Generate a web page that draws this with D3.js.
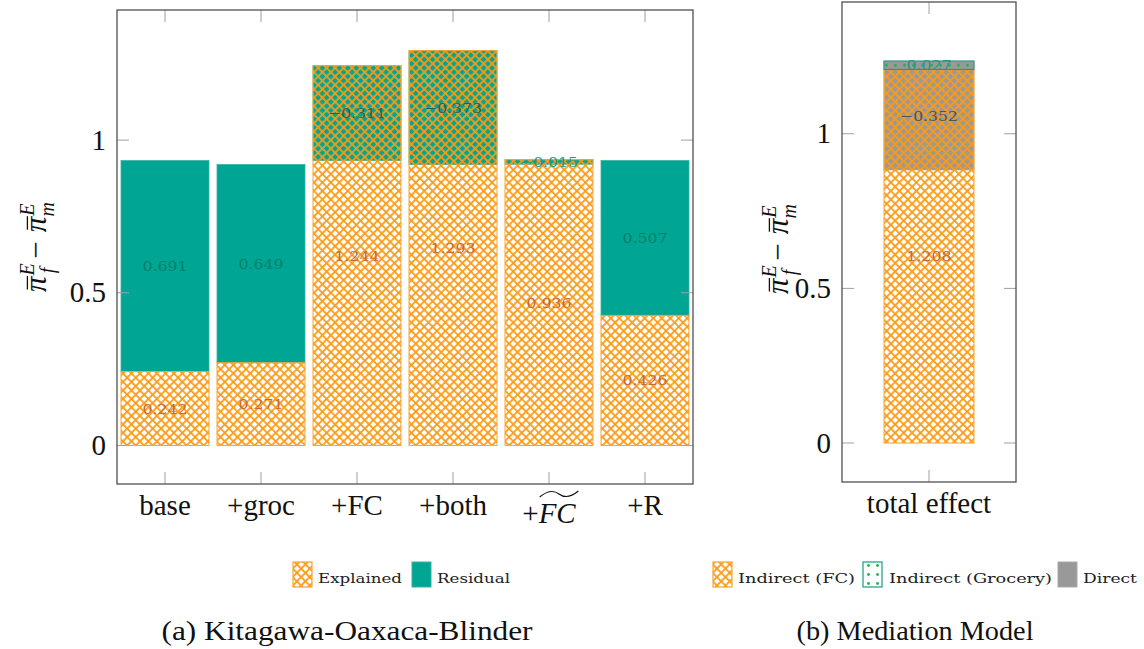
<!DOCTYPE html>
<html><head><meta charset="utf-8">
<script src="https://cdn.jsdelivr.net/npm/d3@7/dist/d3.min.js"></script>
<style>body{margin:0;background:#fff}svg{display:block}</style>
</head><body>
<svg id="chart" width="1144" height="649"></svg>
<script>
// ---------- data ----------
const categories = ["base", "+groc", "+FC", "+both", "+FCtilde", "+R"];
const tickLabels = ["base", "+groc", "+FC", "+both", "+FC", "+R"];
const tickTilde = [false, false, false, false, true, false];
const explained = [0.242, 0.271, 1.244, 1.293, 0.936, 0.426];
const residual = [0.691, 0.649, -0.311, -0.373, -0.015, 0.507];

const medCategories = ["total effect"];
const indirectFC = [1.208];
const indirectGrocery = [0.027];
const directEffect = [-0.352];

const yTicks = [0, 0.5, 1];
const yTickLabels = ["0", "0.5", "1"];
const legendA = ["Explained", "Residual"];
const legendB = ["Indirect (FC)", "Indirect (Grocery)", "Direct"];
const captions = ["(a) Kitagawa-Oaxaca-Blinder", "(b) Mediation Model"];

// ---------- style ----------
const ORANGE = "#fb9a14", ORANGE_EDGE = "#f7a535", TEAL = "#00a693", TEAL_EDGE = "#35b3a2",
      GRAY = "#999999", GREEN_DOT = "#1fb34a";
const LBL_EXPL = "#c9673a", LBL_RES = "#00806c", LBL_DIR = "#505050", LBL_GROC = "#1c9a86";
const SERIF = "'Liberation Serif', 'Times New Roman', serif";
const SMALL = "'DejaVu Serif', serif";

const svg = d3.select("#chart");
const defs = svg.append("defs");

// crosshatch pattern
const cell = 6.0;
const hatch = defs.append("pattern").attr("id", "hatch").attr("patternUnits", "userSpaceOnUse")
  .attr("width", cell).attr("height", cell).attr("patternTransform", "rotate(45)");
hatch.append("path").attr("d", `M0,${cell / 2}H${cell}M${cell / 2},0V${cell}`)
  .attr("stroke", ORANGE).attr("stroke-width", 1.75).attr("fill", "none");

function dotPattern(id, yOff) {
  const p = defs.append("pattern").attr("id", id).attr("patternUnits", "userSpaceOnUse")
    .attr("width", 9).attr("height", 9).attr("x", 0).attr("y", yOff);
  p.append("circle").attr("cx", 4.5).attr("cy", 4.5).attr("r", 1.4).attr("fill", GREEN_DOT);
}

const fmt = d3.format(".3f");

// ---------- panel (a) ----------
const A = {left: 117, right: 693, top: 10, bottom: 484};
const xA = d3.scalePoint().domain(categories).range([165, 645]);
const yA = d3.scaleLinear().domain([-0.126, 1.426]).range([A.bottom, A.top]);
const bwA = 88;

const gA = svg.append("g");
// residual (drawn below)
gA.selectAll("rect.res").data(categories).join("rect").attr("class", "res")
  .attr("x", d => xA(d) - bwA / 2).attr("width", bwA)
  .attr("y", (d, i) => yA(Math.max(explained[i], explained[i] + residual[i])))
  .attr("height", (d, i) => Math.abs(yA(explained[i]) - yA(explained[i] + residual[i])))
  .attr("fill", TEAL).attr("stroke", TEAL_EDGE).attr("stroke-width", 0.8);
// explained
gA.selectAll("rect.exp").data(categories).join("rect").attr("class", "exp")
  .attr("x", d => xA(d) - bwA / 2).attr("width", bwA)
  .attr("y", (d, i) => yA(explained[i]))
  .attr("height", (d, i) => yA(0) - yA(explained[i]))
  .attr("fill", "url(#hatch)").attr("stroke", ORANGE_EDGE).attr("stroke-width", 1);

function valueLabel(g, x, y, v, color) {
  const s = fmt(v);
  g.append("text").attr("x", x).attr("y", y + 5).attr("text-anchor", "middle")
    .attr("font-family", SMALL).attr("font-size", 13.5).attr("fill", color)
    .attr("textLength", v < 0 ? 58 : 45).attr("lengthAdjust", "spacingAndGlyphs").text(s);
}
categories.forEach((c, i) => {
  valueLabel(gA, xA(c), yA(explained[i] / 2), explained[i], LBL_EXPL);
  const resColor = residual[i] < 0 && Math.abs(residual[i]) > 0.1 ? "#2c5d55" : (Math.abs(residual[i]) < 0.05 ? LBL_GROC : LBL_RES);
  valueLabel(gA, xA(c), yA(explained[i] + residual[i] / 2), residual[i], resColor);
});

function frameAndTicks(g, F, x, y, cats) {
  const tk = 12;
  yTicks.forEach(t => {
    g.append("line").attr("x1", F.left).attr("x2", F.left + tk).attr("y1", y(t)).attr("y2", y(t))
      .attr("stroke", "#a0a0a0").attr("stroke-width", 1);
    g.append("line").attr("x1", F.right).attr("x2", F.right - tk).attr("y1", y(t)).attr("y2", y(t))
      .attr("stroke", "#a0a0a0").attr("stroke-width", 1);
  });
  cats.forEach(c => {
    g.append("line").attr("x1", x(c)).attr("x2", x(c)).attr("y1", F.bottom).attr("y2", F.bottom - tk)
      .attr("stroke", "#a0a0a0").attr("stroke-width", 1);
    g.append("line").attr("x1", x(c)).attr("x2", x(c)).attr("y1", F.top).attr("y2", F.top + tk)
      .attr("stroke", "#a0a0a0").attr("stroke-width", 1);
  });
  g.append("rect").attr("x", F.left).attr("y", F.top).attr("width", F.right - F.left)
    .attr("height", F.bottom - F.top).attr("fill", "none").attr("stroke", "#505050").attr("stroke-width", 1.3);
  yTicks.forEach((t, i) => {
    g.append("text").attr("x", F.left - 11).attr("y", y(t) + 9.5).attr("text-anchor", "end")
      .attr("font-family", SERIF).attr("font-size", 29).attr("fill", "#111").text(yTickLabels[i]);
  });
}
frameAndTicks(gA, A, xA, yA, categories);

// x tick labels
categories.forEach((c, i) => {
  const t = gA.append("text").attr("x", xA(c)).attr("y", tickTilde[i] ? 523 : 515)
    .attr("text-anchor", "middle").attr("font-family", SERIF).attr("font-size", 29).attr("fill", "#111");
  if (tickTilde[i]) {
    t.append("tspan").text("+");
    t.append("tspan").attr("font-style", "italic").text("FC");
    const bb = t.node().getBBox();
    const plusW = t.node().getSubStringLength(0, 1);
    const x0 = bb.x + plusW + 1, x1 = bb.x + bb.width + 2, yy = 523 - 29, w = x1 - x0;
    gA.append("path")
      .attr("d", `M${x0},${yy + 3} C${x0 + w * 0.25},${yy - 5} ${x0 + w * 0.4},${yy - 3} ${x0 + w / 2},${yy}
                  S${x0 + w * 0.75},${yy + 5} ${x1},${yy - 3}`)
      .attr("fill", "none").attr("stroke", "#111").attr("stroke-width", 1.1);
  } else {
    t.text(tickLabels[i]);
  }
});

// y-axis label:  pi-bar_f^E - pi-bar_m^E
function yLabel(cx, cy) {
  const fs = 31;
  const g = svg.append("g").attr("transform", `translate(${cx},${cy}) rotate(-90)`);
  const t = g.append("text").attr("x", 0).attr("y", 0)
    .attr("text-anchor", "middle").attr("font-family", SERIF).attr("font-size", fs).attr("fill", "#111");
  const part = (sub, first) => {
    const p = t.append("tspan").attr("font-style", "italic").text("π");
    if (!first) p.attr("dx", 9);
    t.append("tspan").attr("font-size", 20).attr("font-style", "italic").attr("dx", 1).attr("dy", -12).text("E");
    t.append("tspan").attr("font-size", 20).attr("font-style", "italic").attr("dx", sub === "f" ? -10 : -13).attr("dy", 20).text(sub);
  };
  part("f", true);
  t.append("tspan").attr("dy", -8).attr("dx", 9).text("\u2212");
  part("m", false);
  // overbars on the two pi glyphs
  const node = t.node();
  const txt = node.textContent;
  for (let k = 0; k < txt.length; k++) {
    if (txt[k] === "π") {
      const e = node.getExtentOfChar(k);
      g.append("line").attr("x1", e.x + 2.5).attr("x2", e.x + e.width + 0.5)
        .attr("y1", -fs * 0.6).attr("y2", -fs * 0.6).attr("stroke", "#111").attr("stroke-width", 1.3);
    }
  }
}
yLabel(46, 247);

// ---------- panel (b) ----------
const B = {left: 842, right: 1016, top: 2, bottom: 482};
const xB = d3.scalePoint().domain(medCategories).range([B.left, B.right]).padding(0.5);
const yB = d3.scaleLinear().domain([-0.126, 1.426]).range([B.bottom, B.top]);
const bwB = 90;
const gB = svg.append("g");

medCategories.forEach((c, i) => {
  const fcTop = indirectFC[i], grTop = fcTop + indirectGrocery[i], dirEnd = grTop + directEffect[i];
  // direct (behind)
  gB.append("rect").attr("x", xB(c) - bwB / 2).attr("width", bwB)
    .attr("y", yB(Math.max(grTop, dirEnd))).attr("height", Math.abs(yB(grTop) - yB(dirEnd)))
    .attr("fill", GRAY).attr("stroke", "#aaaaaa").attr("stroke-width", 0.8);
  // indirect FC
  gB.append("rect").attr("x", xB(c) - bwB / 2).attr("width", bwB)
    .attr("y", yB(fcTop)).attr("height", yB(0) - yB(fcTop))
    .attr("fill", "url(#hatch)").attr("stroke", ORANGE_EDGE).attr("stroke-width", 1);
  // indirect grocery
  dotPattern("dotsB" + i, yB((fcTop + grTop) / 2) - 4.5);
  gB.append("rect").attr("x", xB(c) - bwB / 2).attr("width", bwB)
    .attr("y", yB(grTop)).attr("height", yB(fcTop) - yB(grTop))
    .attr("fill", `url(#dotsB${i})`).attr("stroke", "#1a9a85").attr("stroke-width", 1.1);
  valueLabel(gB, xB(c), yB(fcTop / 2), indirectFC[i], LBL_EXPL);
  valueLabel(gB, xB(c), yB((grTop + dirEnd) / 2), directEffect[i], LBL_DIR);
  valueLabel(gB, xB(c), yB((fcTop + grTop) / 2), indirectGrocery[i], LBL_GROC);
});
frameAndTicks(gB, B, xB, yB, medCategories);
medCategories.forEach(c => {
  gB.append("text").attr("x", xB(c)).attr("y", 513).attr("text-anchor", "middle")
    .attr("font-family", SERIF).attr("font-size", 29).attr("fill", "#111").text(c);
});
yLabel(788, 249);

// ---------- legends ----------
function legendBox(x, kind) {
  const y = 562, w = 19, h = 25;
  if (kind === "hatch") {
    svg.append("rect").attr("x", x).attr("y", y).attr("width", w).attr("height", h)
      .attr("fill", "url(#hatch)").attr("stroke", ORANGE_EDGE).attr("stroke-width", 1.2);
  } else if (kind === "teal") {
    svg.append("rect").attr("x", x).attr("y", y).attr("width", w).attr("height", h)
      .attr("fill", TEAL).attr("stroke", TEAL_EDGE).attr("stroke-width", 1);
  } else if (kind === "dots") {
    dotPattern("dotsLeg", y - 1);
    svg.append("rect").attr("x", x).attr("y", y).attr("width", w).attr("height", h)
      .attr("fill", "url(#dotsLeg)").attr("stroke", "#1a9a85").attr("stroke-width", 1.2);
  } else {
    svg.append("rect").attr("x", x).attr("y", y).attr("width", w).attr("height", h)
      .attr("fill", GRAY).attr("stroke", "#aaaaaa").attr("stroke-width", 1);
  }
}
function legendText(x, len, s) {
  svg.append("text").attr("x", x).attr("y", 583).attr("font-family", SMALL).attr("font-size", 13)
    .attr("fill", "#222").attr("textLength", len).attr("lengthAdjust", "spacingAndGlyphs").text(s);
}
legendBox(293, "hatch"); legendText(318, 84, legendA[0]);
legendBox(412, "teal"); legendText(437, 73, legendA[1]);
legendBox(713, "hatch"); legendText(738, 117, legendB[0]);
legendBox(863, "dots"); legendText(889, 163, legendB[1]);
legendBox(1058, "gray"); legendText(1083, 54, legendB[2]);

// ---------- captions ----------
svg.append("text").attr("x", 347).attr("y", 640).attr("text-anchor", "middle")
  .attr("font-family", SERIF).attr("font-size", 27).attr("fill", "#111")
  .attr("textLength", 371).attr("lengthAdjust", "spacingAndGlyphs").text(captions[0]);
svg.append("text").attr("x", 915).attr("y", 640).attr("text-anchor", "middle")
  .attr("font-family", SERIF).attr("font-size", 27).attr("fill", "#111")
  .attr("textLength", 237).attr("lengthAdjust", "spacingAndGlyphs").text(captions[1]);
</script>
</body></html>
